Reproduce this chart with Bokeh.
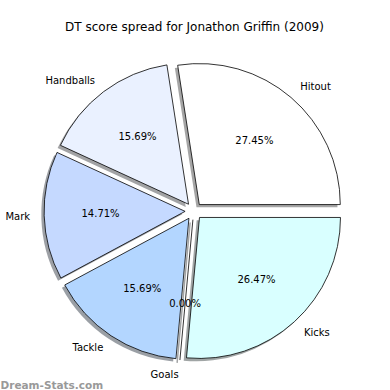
import math
from bokeh.plotting import figure
from bokeh.models import Range1d, ColumnDataSource
from bokeh.core.properties import value
from bokeh.embed import file_html
from bokeh.resources import INLINE

# ---- data ----
labels = ["Hitout", "Handballs", "Mark", "Tackle", "Goals", "Kicks"]
scores = [28, 16, 15, 16, 0, 27]
colors = ["#ffffff", "#eaf1ff", "#c5d9ff", "#b3d6ff", "#e6f5ff", "#d9ffff"]
title = "DT score spread for Jonathon Griffin (2009)"
watermark = "Dream-Stats.com"

# ---- layout (pixel-like data space, y up) ----
W = 390
H = 390
cx, cy = 193.2, H - 210.6
R = 141.0
explode = 8.6
shadow_off = 2.8

total = float(sum(scores))
starts, ends, mids = [], [], []
acc = 0.0
for s in scores:
    a0 = 2 * math.pi * acc / total
    acc += s
    a1 = 2 * math.pi * acc / total
    starts.append(a0)
    ends.append(a1)
    mids.append((a0 + a1) / 2)

wx = [cx + explode * math.cos(m) for m in mids]
wy = [cy + explode * math.sin(m) for m in mids]

def shade(c):
    c = c.lstrip("#")
    r, g, b = (int(c[i:i + 2], 16) for i in (0, 2, 4))
    return "#%02x%02x%02x" % (int(r * 0.3), int(g * 0.3), int(b * 0.3))

nz = [i for i, s in enumerate(scores) if s > 0]
zr = [i for i, s in enumerate(scores) if s == 0]

src = ColumnDataSource(dict(
    x=[wx[i] for i in nz], y=[wy[i] for i in nz],
    sx=[wx[i] - shadow_off for i in nz], sy=[wy[i] - shadow_off for i in nz],
    start=[starts[i] for i in nz], end=[ends[i] for i in nz],
    color=[colors[i] for i in nz], scolor=[shade(colors[i]) for i in nz],
))

p = figure(width=W, height=H, output_backend="svg", toolbar_location=None,
           x_range=Range1d(0, W), y_range=Range1d(0, H), min_border=0)
p.axis.visible = False
p.grid.visible = False
p.outline_line_color = None
p.background_fill_color = "white"

# zero-size slices: a single radial edge (plus its shadow)
for i in zr:
    a = starts[i]
    ex, ey = wx[i] + R * math.cos(a), wy[i] + R * math.sin(a)
    p.segment(x0=[wx[i] - shadow_off], y0=[wy[i] - shadow_off],
              x1=[ex - shadow_off], y1=[ey - shadow_off],
              line_color=shade(colors[i]), line_alpha=0.5, line_width=1.5)

p.wedge(x="sx", y="sy", radius=R, start_angle="start", end_angle="end",
        fill_color="scolor", fill_alpha=0.5, line_color=None, source=src)
p.wedge(x="x", y="y", radius=R, start_angle="start", end_angle="end",
        fill_color="color", line_color="black", line_width=0.8, source=src)

for i in zr:
    a = starts[i]
    ex, ey = wx[i] + R * math.cos(a), wy[i] + R * math.sin(a)
    p.segment(x0=[wx[i]], y0=[wy[i]], x1=[ex], y1=[ey],
              line_color="black", line_width=0.8)

# labels
lx, ly, la = [], [], []
px, py, pt = [], [], []
for i, m in enumerate(mids):
    lx.append(wx[i] + 1.1 * R * math.cos(m))
    ly.append(wy[i] + 1.1 * R * math.sin(m))
    la.append("left" if math.cos(m) >= 0 else "right")
    px.append(wx[i] + 0.6 * R * math.cos(m))
    py.append(wy[i] + 0.6 * R * math.sin(m))
    pt.append("%.2f%%" % (100.0 * scores[i] / total))

p.text(x=lx, y=ly, text=labels, text_align=la, text_baseline="middle",
       text_font=value("DejaVu Sans"), text_font_size=value("10px"), text_color="black")
p.text(x=px, y=py, text=pt, text_align="center", text_baseline="middle",
       text_font=value("DejaVu Sans"), text_font_size=value("10px"), text_color="black")

p.text(x=[194], y=[H - 26], text=[title], text_align="center", text_baseline="middle",
       text_font=value("DejaVu Sans"), text_font_size=value("12px"), text_color="black")

p.text(x=[0], y=[H - 384], text=[watermark], text_align="left", text_baseline="alphabetic",
       text_font=value("DejaVu Sans"), text_font_size=value("10.5px"), text_color="#999999",
       text_font_style="bold")

open("out.html", "w").write(file_html(p, INLINE))
